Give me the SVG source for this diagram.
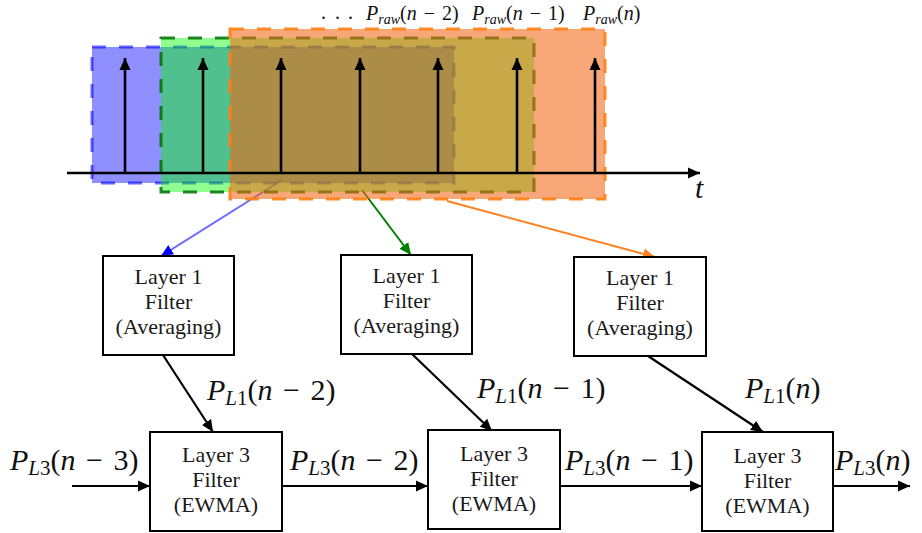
<svg xmlns="http://www.w3.org/2000/svg" width="922" height="533" viewBox="0 0 922 533">
<style>
  .box { fill: #ffffff; stroke: #000000; stroke-width: 2; }
  .lbl { font-family: "Liberation Serif", "Times New Roman", serif; font-size: 22px; fill: #1a1a1a; text-anchor: middle; }
  .math { font-family: "Liberation Serif", "Times New Roman", serif; font-size: 30px; fill: #111111; }
  .mathS { font-family: "Liberation Serif", "Times New Roman", serif; font-size: 20px; fill: #111111; }
  .it { font-style: italic; }
  .win { stroke-width: 3; stroke-dasharray: 14 13; }
  .blk { stroke: #000000; stroke-width: 2.2; fill: none; }
  .stem { stroke: #000000; stroke-width: 2.6; fill: none; }
</style>
<defs>
  <marker id="ah" markerUnits="userSpaceOnUse" viewBox="0 0 13 12" markerWidth="13" markerHeight="12" refX="12" refY="6" orient="auto">
    <path d="M0,0.5 L12,6 L0,11.5 z" fill="#000000"/>
  </marker>
  <marker id="ahB" markerUnits="userSpaceOnUse" viewBox="0 0 13 12" markerWidth="13" markerHeight="12" refX="12" refY="6" orient="auto">
    <path d="M0,0.5 L12,6 L0,11.5 z" fill="#0000ff"/>
  </marker>
  <marker id="ahG" markerUnits="userSpaceOnUse" viewBox="0 0 13 12" markerWidth="13" markerHeight="12" refX="12" refY="6" orient="auto">
    <path d="M0,0.5 L12,6 L0,11.5 z" fill="#008000"/>
  </marker>
  <marker id="ahO" markerUnits="userSpaceOnUse" viewBox="0 0 13 12" markerWidth="13" markerHeight="12" refX="12" refY="6" orient="auto">
    <path d="M0,0.5 L12,6 L0,11.5 z" fill="#ff8020"/>
  </marker>
</defs>
<rect width="922" height="533" fill="#ffffff"/>

<g id="connectors">
  <line x1="282" y1="180" x2="161" y2="256" stroke="#6a6aff" stroke-width="2" marker-end="url(#ahB)"/>
  <line x1="362" y1="190" x2="411" y2="255" stroke="#008000" stroke-width="2" marker-end="url(#ahG)"/>
  <line x1="447" y1="201" x2="655" y2="257" stroke="#ff8020" stroke-width="2" marker-end="url(#ahO)"/>
  <line class="blk" x1="163" y1="355" x2="213" y2="432" marker-end="url(#ah)"/>
  <line class="blk" x1="412" y1="354" x2="492" y2="431" marker-end="url(#ah)"/>
  <line class="blk" x1="648" y1="356" x2="763" y2="432" marker-end="url(#ah)"/>
  <line class="blk" x1="72" y1="486" x2="150" y2="486" marker-end="url(#ah)"/>
  <line class="blk" x1="282" y1="486" x2="428" y2="486" marker-end="url(#ah)"/>
  <line class="blk" x1="560" y1="486" x2="702" y2="486" marker-end="url(#ah)"/>
  <line class="blk" x1="833" y1="486" x2="910" y2="486" marker-end="url(#ah)"/>
</g>

<g id="windows">
  <rect id="win-blue" class="win" x="92" y="47" width="362" height="136" fill="#0000ff" fill-opacity="0.44" stroke="#0000ff" stroke-opacity="0.6"/>
  <rect id="win-green" class="win" x="161" y="38" width="373" height="154" fill="#00ff00" fill-opacity="0.44" stroke="#007000" stroke-opacity="0.85"/>
  <rect id="win-orange" class="win" x="230" y="29" width="375" height="170" fill="#f36612" fill-opacity="0.57" stroke="#ff8010" stroke-opacity="0.9"/>
</g>

<g id="signal">
  <line class="stem" x1="67" y1="173" x2="700" y2="173" marker-end="url(#ah)"/>
  <line class="stem" x1="125" y1="173" x2="125" y2="58" marker-end="url(#ah)"/>
  <line class="stem" x1="203" y1="173" x2="203" y2="58" marker-end="url(#ah)"/>
  <line class="stem" x1="281" y1="173" x2="281" y2="58" marker-end="url(#ah)"/>
  <line class="stem" x1="360" y1="173" x2="360" y2="58" marker-end="url(#ah)"/>
  <line class="stem" x1="438" y1="173" x2="438" y2="58" marker-end="url(#ah)"/>
  <line class="stem" x1="517" y1="173" x2="517" y2="58" marker-end="url(#ah)"/>
  <line class="stem" x1="595" y1="173" x2="595" y2="58" marker-end="url(#ah)"/>
  <text class="math it" x="695" y="198">t</text>
  <text class="mathS" x="321 335 348" y="19">...</text>
  <text class="mathS" x="366" y="20"><tspan class="it">P</tspan><tspan class="it" font-size="14" dy="4">raw</tspan><tspan dy="-4">(</tspan><tspan class="it">n</tspan><tspan dx="2"> − </tspan><tspan dx="2">2)</tspan></text>
  <text class="mathS" x="472" y="20"><tspan class="it">P</tspan><tspan class="it" font-size="14" dy="4">raw</tspan><tspan dy="-4">(</tspan><tspan class="it">n</tspan><tspan dx="2"> − </tspan><tspan dx="2">1)</tspan></text>
  <text class="mathS" x="583" y="20"><tspan class="it">P</tspan><tspan class="it" font-size="14" dy="4">raw</tspan><tspan dy="-4">(</tspan><tspan class="it">n</tspan>)</text>
</g>

<g id="l1-a">
  <rect class="box" x="103" y="256" width="131" height="99"/>
  <text class="lbl" x="168.5" y="284">Layer 1</text>
  <text class="lbl" x="168.5" y="309">Filter</text>
  <text class="lbl" x="168.5" y="334">(Averaging)</text>
</g>
<g id="l1-b">
  <rect class="box" x="341" y="255" width="131" height="99"/>
  <text class="lbl" x="406.5" y="283">Layer 1</text>
  <text class="lbl" x="406.5" y="308">Filter</text>
  <text class="lbl" x="406.5" y="333">(Averaging)</text>
</g>
<g id="l1-c">
  <rect class="box" x="574" y="257" width="132" height="99"/>
  <text class="lbl" x="640" y="285">Layer 1</text>
  <text class="lbl" x="640" y="310">Filter</text>
  <text class="lbl" x="640" y="335">(Averaging)</text>
</g>

<g id="l3-a">
  <rect class="box" x="150" y="432" width="132" height="99"/>
  <text class="lbl" x="216" y="462">Layer 3</text>
  <text class="lbl" x="216" y="487">Filter</text>
  <text class="lbl" x="216" y="512">(EWMA)</text>
</g>
<g id="l3-b">
  <rect class="box" x="428" y="430" width="132" height="99"/>
  <text class="lbl" x="494" y="461">Layer 3</text>
  <text class="lbl" x="494" y="486">Filter</text>
  <text class="lbl" x="494" y="511">(EWMA)</text>
</g>
<g id="l3-c">
  <rect class="box" x="702" y="432" width="131" height="99"/>
  <text class="lbl" x="767.5" y="463">Layer 3</text>
  <text class="lbl" x="767.5" y="488">Filter</text>
  <text class="lbl" x="767.5" y="513">(EWMA)</text>
</g>

<g id="labels">
  <text class="math" x="10" y="470"><tspan class="it">P</tspan><tspan class="it" font-size="21" dy="5">L</tspan><tspan font-size="21">3</tspan><tspan dy="-5">(</tspan><tspan class="it">n</tspan><tspan dx="3"> − </tspan><tspan dx="3">3)</tspan></text>
  <text class="math" x="207" y="400"><tspan class="it">P</tspan><tspan class="it" font-size="21" dy="5">L</tspan><tspan font-size="21">1</tspan><tspan dy="-5">(</tspan><tspan class="it">n</tspan><tspan dx="3"> − </tspan><tspan dx="3">2)</tspan></text>
  <text class="math" x="290" y="470"><tspan class="it">P</tspan><tspan class="it" font-size="21" dy="5">L</tspan><tspan font-size="21">3</tspan><tspan dy="-5">(</tspan><tspan class="it">n</tspan><tspan dx="3"> − </tspan><tspan dx="3">2)</tspan></text>
  <text class="math" x="477" y="398"><tspan class="it">P</tspan><tspan class="it" font-size="21" dy="5">L</tspan><tspan font-size="21">1</tspan><tspan dy="-5">(</tspan><tspan class="it">n</tspan><tspan dx="3"> − </tspan><tspan dx="3">1)</tspan></text>
  <text class="math" x="565" y="470"><tspan class="it">P</tspan><tspan class="it" font-size="21" dy="5">L</tspan><tspan font-size="21">3</tspan><tspan dy="-5">(</tspan><tspan class="it">n</tspan><tspan dx="3"> − </tspan><tspan dx="3">1)</tspan></text>
  <text class="math" x="745" y="398"><tspan class="it">P</tspan><tspan class="it" font-size="21" dy="5">L</tspan><tspan font-size="21">1</tspan><tspan dy="-5">(</tspan><tspan class="it">n</tspan>)</text>
  <text class="math" x="835" y="470"><tspan class="it">P</tspan><tspan class="it" font-size="21" dy="5">L</tspan><tspan font-size="21">3</tspan><tspan dy="-5">(</tspan><tspan class="it">n</tspan>)</text>
</g>
</svg>
